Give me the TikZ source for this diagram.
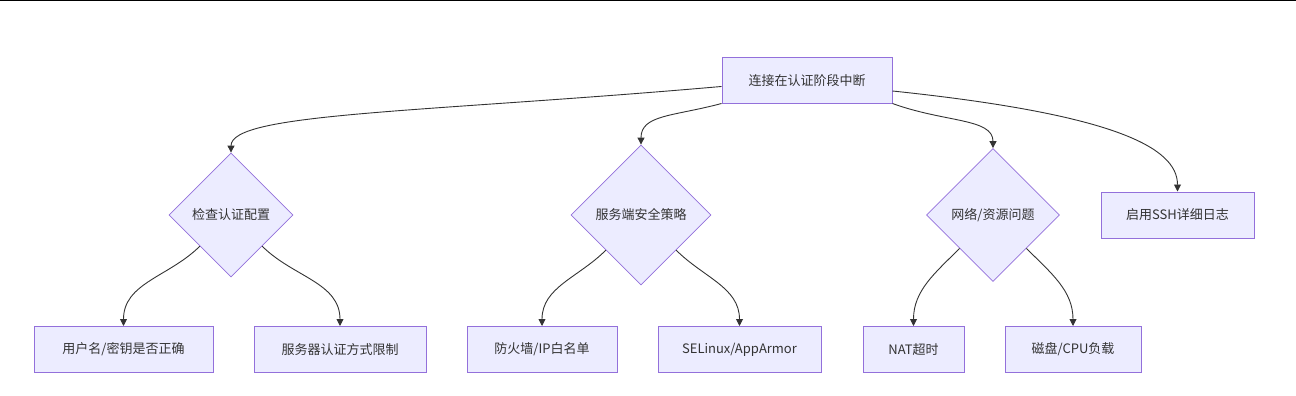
\documentclass[tikz,border=0pt]{standalone}
\usepackage{fontspec}
\newfontfamily\cjkfont{Noto Sans CJK SC}
\usepackage{xcolor}
\usepackage{tikz}
\usetikzlibrary{arrows.meta,shapes.geometric}

\definecolor{mmfill}{HTML}{ECECFF}
\definecolor{mmline}{HTML}{9370DB}
\definecolor{mmtext}{HTML}{333333}

\begin{document}
\begin{tikzpicture}[
      x=1pt, y=1pt,
      font=\cjkfont\fontsize{13}{15}\selectfont,
      box/.style={draw=mmline, fill=mmfill, line width=1pt, text=mmtext,
                  minimum height=46pt, inner sep=0pt},
      choice/.style={diamond, aspect=1, draw=mmline, fill=mmfill, line width=0.8pt,
                     text=mmtext, inner sep=0pt},
      arr/.style={-{Triangle[length=7pt,width=7pt]}, draw=mmtext, line width=0.9pt}
    ]
    \useasboundingbox (0,0) rectangle (1296,-396);
    \fill[black] (0,0) rectangle (1296,-1.5);
    \node[box, minimum width=170pt, minimum height=45pt] (broken) at (807,-80.5) {连接在认证阶段中断};
    \node[choice, minimum size=124pt] (authcfg) at (231,-215) {检查认证配置};
    \node[choice, minimum size=140pt] (srvpol)  at (641,-215) {服务端安全策略};
    \node[choice, minimum size=133pt] (netres)  at (993,-215) {网络/资源问题};
    \node[box, minimum width=153pt] (sshlog)  at (1177.5,-215) {启用SSH详细日志};
    \node[box, minimum width=179pt] (userkey) at (123.5,-349.5) {用户名/密钥是否正确};
    \node[box, minimum width=172pt] (authlim) at (340,-349.5) {服务器认证方式限制};
    \node[box, minimum width=150pt] (fwip)    at (542,-349.5) {防火墙/IP白名单};
    \node[box, minimum width=163pt] (selinux) at (739.5,-349.5) {SELinux/AppArmor};
    \node[box, minimum width=101pt] (nat)     at (913.5,-349.5) {NAT超时};
    \node[box, minimum width=136pt] (diskcpu) at (1073,-349.5) {磁盘/CPU负载};
    % from the root
    \draw[arr] (broken.184) to[out=185,in=90,out distance=300pt,in distance=40pt] (authcfg.north);
    \draw[arr] (broken.south west) to[out=195,in=90,out distance=50pt,in distance=30pt] (srvpol.north);
    \draw[arr] (broken.south east) to[out=-20,in=90,out distance=56pt,in distance=30pt] (netres.north);
    \draw[arr] (broken.-7) to[out=-6,in=90,out distance=220pt,in distance=45pt] (sshlog.north);
    % down to the leaves
    \draw[arr] (authcfg.south west) to[out=-135,in=90] (userkey.north);
    \draw[arr] (authcfg.south east) to[out=-45,in=90] (authlim.north);
    \draw[arr] (srvpol.south west) to[out=-135,in=90] (fwip.north);
    \draw[arr] (srvpol.south east) to[out=-45,in=90] (selinux.north);
    \draw[arr] (netres.south west) to[out=-135,in=90] (nat.north);
    \draw[arr] (netres.south east) to[out=-45,in=90] (diskcpu.north);
  \end{tikzpicture}
\end{document}
